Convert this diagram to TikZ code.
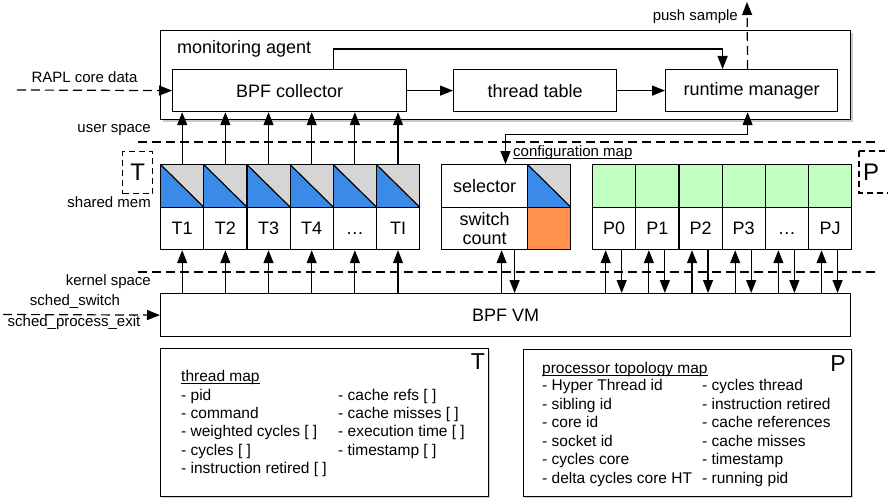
\documentclass[tikz,border=0pt]{standalone}
\usepackage{fontspec}
\setmainfont{Liberation Sans}
\usetikzlibrary{arrows.meta,shadows,calc}
\definecolor{tblue}{HTML}{3A8BE8}
\definecolor{tgrey}{HTML}{D5D5D5}
\definecolor{pgreen}{HTML}{C0FFC0}
\definecolor{orng}{HTML}{FF914D}
\newsavebox\myulbox
\newcommand\myul[1]{\sbox\myulbox{#1}\rlap{\usebox\myulbox}\rule[-2.4pt]{\wd\myulbox}{0.8pt}}
\begin{document}
\begin{tikzpicture}[x=1pt,y=-1pt,
  every node/.style={font=\fontsize{18}{20}\selectfont, inner sep=0pt},
  box/.style={draw, line width=1.2pt, fill=white, anchor=north west},
  cell/.style={draw, line width=1.2pt, fill=white, anchor=north west, minimum width=43.17pt, minimum height=42.5pt},
  lab/.style={text height=12.9pt, text depth=0pt},
  tri/.style={fill=tgrey, path picture={
     \fill[tblue] (path picture bounding box.north west) -- (path picture bounding box.south west) -- (path picture bounding box.south east) -- cycle;
     \draw[line width=1.2pt] (path picture bounding box.north west) -- (path picture bounding box.south east);}},
  lbl/.style={font=\fontsize{15}{18}\selectfont},
  arr/.style={line width=1.2pt, -{Triangle[length=13pt,width=10pt]}},
  both/.style={line width=1.2pt, {Triangle[length=13pt,width=10pt]}-{Triangle[length=13pt,width=10pt]}},
  dsh/.style={dash pattern=on 9pt off 5pt},
  keybox/.style={draw, line width=1.2pt, dash pattern=on 6pt off 4pt},
  listfont/.style={font=\fontsize{15.5}{18.2}\selectfont}
]
\useasboundingbox (0,0) rectangle (888,500);

% monitoring agent
\node[box, line width=1.4pt, minimum width=690pt, minimum height=89pt,
      drop shadow={shadow xshift=2pt, shadow yshift=-2pt, opacity=0.35, fill=black!60}] (agent) at (160,30) {};
\node[anchor=west] (agentlbl) at (177,49) {monitoring agent};
\node[box, minimum width=234pt, minimum height=42pt] (bpf) at (172,69) {BPF collector};
\node[box, minimum width=163pt, minimum height=42pt] (tt) at (453,69) {thread table};
\node[box, minimum width=172pt, minimum height=42pt] (rm) at (665,69) {runtime manager};

\draw[arr] (bpf) -- (tt);
\draw[arr] (tt) -- (rm);
\draw[arr] ([xshift=44pt]bpf.north) -- ++(0,-20) -| ([xshift=-29pt]rm.north);

% push sample
\coordinate (pushend) at (747,2);
\draw[arr, dsh] ([xshift=-4pt]rm.north) -- (pushend);
\node[lbl, anchor=east] (pushlbl) at (738,17) {push sample};

% RAPL
\coordinate (raplin) at (17,90);
\draw[arr, dsh] (raplin) -- (bpf.west);
\node[lbl] (rapllbl) at (84.5,77) {RAPL core data};

% separators
\coordinate (us1) at (138,142);
\coordinate (us2) at (875,142);
\draw[line width=1.2pt, dsh] (us1) -- (us2);
\coordinate (ks1) at (138,272);
\coordinate (ks2) at (875,272);
\draw[line width=1.2pt, dsh] (ks1) -- (ks2);
\node[lbl, anchor=east] (uslbl) at (151,130) {user space};
\node[lbl, anchor=east] (smlbl) at (151,202) {shared mem};
\node[lbl, anchor=east] (kslbl) at (151,282) {kernel space};

% key boxes
\node[keybox, anchor=north west, minimum width=30pt, minimum height=42pt, font=\fontsize{24}{24}\selectfont] (tkey) at (122,151) {T};
\draw[keybox] (859,151) rectangle (900,193);
\node[font=\fontsize{24}{24}\selectfont] (pkey) at (871,172) {P};

% BPF VM
\node[box, minimum width=690pt, minimum height=43pt] (vm) at (160,293) {BPF VM};
\coordinate (schedin) at (3,314.5);
\draw[arr, dsh] (schedin) -- (vm.west);
\node[lbl] (sslbl) at (75,302) {sched\_switch};
\node[lbl] (spelbl) at (74,323) {sched\_process\_exit};

% thread cells
\foreach \i/\l in {1/T1,2/T2,3/T3,4/T4,5/…,6/TI} {
  \node[cell, tri] (ta\i) at ({160+43.17*(\i-1)},164) {};
  \node[cell, lab] (tb\i) at ({160+43.17*(\i-1)},206.5) {\l};
  \draw[arr] (ta\i.north) -- (ta\i.north |- bpf.south);
  \draw[arr] (tb\i.south |- vm.north) -- (tb\i.south);
}

% configuration map
\node[cell, minimum width=86pt] (sel) at (441,164) {selector};
\node[cell, tri] (selc) at (527,164) {};
\node[cell, minimum width=86pt, align=center, font=\fontsize{18}{18.5}\selectfont] (sw) at (441,206.5) {switch\\count};
\node[cell, fill=orng] (swc) at (527,206.5) {};
\coordinate (cfgtop) at (505.5,164);
\draw[both] ([xshift=-4pt]rm.south) -- ++(0,22) -| (cfgtop);
\node[lbl, anchor=base west] (cfglbl) at (513,156) {\myul{configuration map}};
\coordinate (swup) at ([xshift=17pt]sw.south);
\coordinate (swdn) at ([xshift=30pt]sw.south);
\draw[arr] (swup |- vm.north) -- (swup);
\draw[arr] (swdn) -- (swdn |- vm.north);

% processor cells
\foreach \i/\l in {1/P0,2/P1,3/P2,4/P3,5/…,6/PJ} {
  \node[cell, fill=pgreen] (pa\i) at ({592+43.17*(\i-1)},164) {};
  \node[cell, lab] (pb\i) at ({592+43.17*(\i-1)},206.5) {\l};
  \coordinate (pu\i) at ([xshift=-8.5pt]pb\i.south);
  \coordinate (pd\i) at ([xshift=7.5pt]pb\i.south);
  \draw[arr] (pu\i |- vm.north) -- (pu\i);
  \draw[arr] (pd\i) -- (pd\i |- vm.north);
}

% thread map box
\node[box, minimum width=328pt, minimum height=148pt,
      drop shadow={shadow xshift=1.2pt, shadow yshift=-1.2pt, opacity=0.3, fill=black!60}] (tmap) at (160,348) {};
\node[font=\fontsize{23}{23}\selectfont] (tmapkey) at (478,362) {T};
\node[listfont, anchor=base west] (tmaplist) at (181,381) {%
\begin{tabular}[t]{@{}p{157pt}@{}l@{}}
\multicolumn{2}{@{}l@{}}{\myul{thread map}}\\[1.3pt]
- pid & - cache refs [ ]\\
- command & - cache misses [ ]\\
- weighted cycles [ ] & - execution time [ ]\\
- cycles [ ] & - timestamp [ ]\\
- instruction retired [ ] &
\end{tabular}};

% processor topology map box
\node[box, minimum width=328pt, minimum height=147pt,
      drop shadow={shadow xshift=1.2pt, shadow yshift=-1.2pt, opacity=0.3, fill=black!60}] (pmap) at (523,349) {};
\node[font=\fontsize{23}{23}\selectfont] (pmapkey) at (838,364) {P};
\node[font=\fontsize{15.5}{18.6}\selectfont, anchor=base west] (pmaplist) at (542,373.5) {%
\begin{tabular}[t]{@{}p{160pt}@{}l@{}}
\multicolumn{2}{@{}l@{}}{\myul{processor topology map}}\\[-1.6pt]
- Hyper Thread id & - cycles thread\\
- sibling id & - instruction retired\\
- core id & - cache references\\
- socket id & - cache misses\\
- cycles core & - timestamp\\
- delta cycles core HT & - running pid
\end{tabular}};
\end{tikzpicture}
\end{document}
